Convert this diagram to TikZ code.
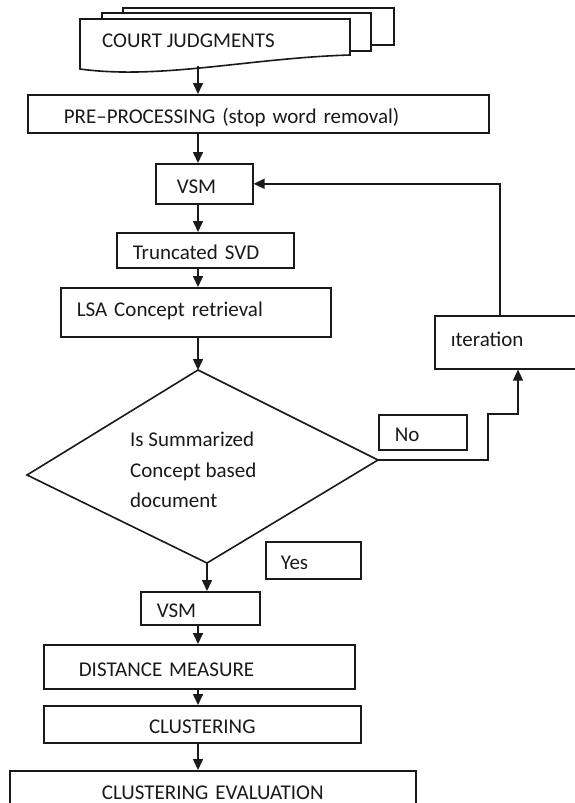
\documentclass[tikz,border=0pt]{standalone}
\usepackage{fontspec}
\setmainfont{Carlito}
\usepackage{xcolor}
\usepackage{tikz}
\usetikzlibrary{arrows.meta}
\definecolor{ink}{HTML}{1A1A1A}
\definecolor{paper}{HTML}{FFFFFF}
\tikzset{
  edge/.style={draw=ink, line width=1.6pt, line join=miter},
  sheet/.style={edge, fill=paper},
  stepbox/.style={edge, fill=paper, text=ink, anchor=north west, inner ysep=0pt, align=left, text height=23pt, text depth=4pt},
  raise/.style={text height=16pt, text depth=7pt},
  lbl/.style={inner sep=0pt, text=ink},
  arr/.style={draw=ink, line width=1.6pt, -{Triangle[length=11pt,width=10pt]}},
}

\begin{document}
\begin{tikzpicture}[x=1pt, y=-1pt, font=\fontsize{21}{30.5}\selectfont]
  \useasboundingbox (0,0) rectangle (575,803);
  \clip (0,0) rectangle (575,803);
  \fill[paper] (0,0) rectangle (575,803);

  % stacked judgments
  \filldraw[sheet] (123,8) rectangle (394,45);
  \filldraw[sheet] (102,13) rectangle (371,51);
  \filldraw[sheet] (80,19) -- (350,19) -- (350,55) .. controls (250,58) and (160,80) .. (80,69) -- cycle;
  \node[lbl, anchor=base west] (court) at (102,47) {COURT JUDGMENTS};
  \coordinate (docbot) at (198,66);
  \coordinate (spine) at (198,0);

  \node[stepbox, minimum width=461pt, minimum height=38pt, inner xsep=36pt, text width=389pt] (pre) at (27,94) {PRE–PROCESSING (stop word removal)};
  \node[stepbox, minimum width=97pt, minimum height=40pt, inner xsep=21pt, text width=55pt] (vsm1) at (155,163) {VSM};
  \node[stepbox, minimum width=177pt, minimum height=35pt, inner xsep=16pt, text width=145pt] (svd) at (116,232) {Truncated SVD};
  \node[stepbox, raise, minimum width=270pt, minimum height=49pt, inner xsep=16pt, text width=238pt] (lsa) at (60,287) {LSA Concept retrieval};
  \node[stepbox, raise, minimum width=170pt, minimum height=53pt, inner xsep=16pt, text width=138pt] (iter) at (434,315) {ıteration};

  % decision
  \coordinate (dtop) at (198,370);
  \coordinate (dright) at (378,460);
  \coordinate (dbot) at (207,563);
  \coordinate (dleft) at (27,475);
  \draw[edge] (dtop) -- (dright) -- (dbot) -- (dleft) -- cycle;
  \node[lbl, align=left, anchor=west] (query) at (130,470) {Is Summarized\\Concept based\\document};

  \node[stepbox, minimum width=88pt, minimum height=35pt, inner xsep=16pt, text width=56pt] (no) at (378,414) {No};
  \node[stepbox, minimum width=95pt, minimum height=37pt, inner xsep=15pt, text width=65pt] (yes) at (265,541) {Yes};

  \node[stepbox, minimum width=119pt, minimum height=33pt, inner xsep=16pt, text width=87pt] (vsm2) at (140,591) {VSM};
  \node[stepbox, minimum width=311pt, minimum height=44pt, inner xsep=35pt, text width=241pt] (dist) at (43,644) {DISTANCE MEASURE};
  \node[stepbox, align=center, minimum width=317pt, minimum height=37pt, inner xsep=0pt, text width=317pt] (clust) at (43,705) {CLUSTERING};
  \node[stepbox, align=center, text height=14pt, text depth=0pt, minimum width=406pt, minimum height=44pt, inner xsep=0pt, text width=406pt] (eval) at (9,770) {CLUSTERING EVALUATION};

  % flow
  \draw[arr] (docbot) -- (pre.north -| spine);
  \foreach \a/\b in {pre/vsm1, vsm1/svd, svd/lsa, vsm2/dist, dist/clust, clust/eval}
    \draw[arr] (\a.south -| spine) -- (\b.north -| spine);
  \draw[arr] (lsa.south -| spine) -- (dtop);
  \draw[arr] (dbot) -- (dbot |- vsm2.north);
  \draw[arr] (dright) -- ++(110,0) -- ++(0,-46) -| ([xshift=84pt]iter.south west);
  \draw[arr] ([xshift=66pt]iter.north west) |- (vsm1.east);
\end{tikzpicture}
\end{document}
